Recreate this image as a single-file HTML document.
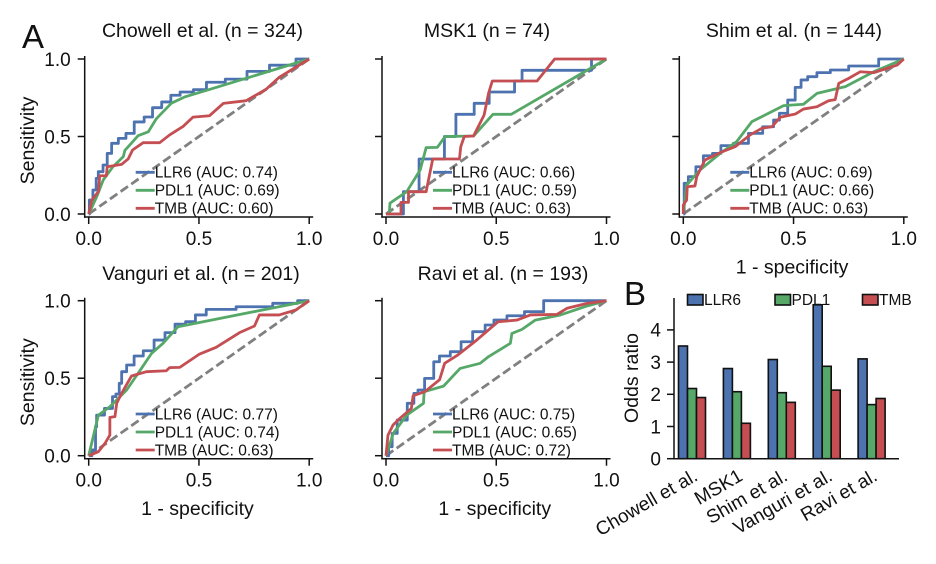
<!DOCTYPE html>
<html lang="en">
<head>
<meta charset="utf-8">
<title>ROC curves and odds ratios</title>
<style>
html,body{margin:0;padding:0;background:#fff;width:936px;height:564px;overflow:hidden}
svg{display:block}
text{font-family:"Liberation Sans",Arial,sans-serif;fill:#111}
</style>
</head>
<body>
<svg id="fig" width="936" height="564" viewBox="0 0 936 564" xmlns="http://www.w3.org/2000/svg"></svg>
<script>
// ROC data: [1 - specificity, sensitivity]
const chowellLLR6 = [[0,0],[.006,.09],[.032,.155],[.036,.23],[.051,.273],[.079,.316],[.089,.391],[.119,.456],[.15,.488],[.188,.52],[.225,.594],[.278,.626],[.301,.686],[.361,.723],[.384,.766],[.445,.787],[.505,.802],[.563,.85],[.676,.87],[.76,.92],[.88,.96],[1,1]];
const chowellPDL1 = [[0,0],[.036,.11],[.066,.22],[.11,.305],[.157,.37],[.164,.41],[.224,.505],[.27,.53],[.307,.615],[.375,.715],[.435,.755],[.563,.81],[1,1]];
const chowellTMB = [[0,0],[.014,.09],[.044,.144],[.05,.247],[.08,.247],[.084,.305],[.149,.32],[.179,.355],[.199,.413],[.247,.46],[.322,.46],[.367,.51],[.428,.565],[.473,.625],[.548,.634],[.611,.714],[.714,.731],[.804,.804],[.864,.882],[1,1]];

const msk1LLR6 = [[0,0],[.079,.144],[.15,.355],[.265,.5],[.317,.643],[.40,.714],[.468,.787],[.583,.858],[.617,.927],[.932,1],[1,1]];
const msk1PDL1 = [[0,0],[.015,.005],[.018,.07],[.094,.144],[.155,.284],[.182,.428],[.233,.43],[.268,.5],[.397,.503],[.485,.643],[.568,.643],[1,1]];
const msk1TMB = [[0,0],[.068,0],[.068,.075],[.102,.075],[.102,.144],[.182,.144],[.212,.355],[.333,.355],[.339,.434],[.355,.5],[.397,.503],[.445,.639],[.465,.778],[.482,.858],[.685,.858],[.765,1],[1,1]];

const shimLLR6 = [[0,0],[.008,.198],[.038,.241],[.076,.305],[.106,.376],[.159,.391],[.182,.441],[.273,.456],[.318,.52],[.402,.563],[.417,.606],[.455,.65],[.492,.735],[.523,.817],[.545,.865],[.583,.886],[.629,.912],[.705,.929],[.795,.955],[.886,.955],[.886,1],[1,1]];
const shimPDL1 = [[0,0],[.015,.187],[.076,.284],[.167,.391],[.242,.467],[.311,.596],[.455,.699],[.545,.708],[.606,.778],[.735,.822],[.864,.918],[1,1]];
const shimTMB = [[0,0],[0,.058],[.015,.09],[.018,.176],[.053,.181],[.061,.241],[.098,.348],[.167,.396],[.235,.434],[.303,.51],[.356,.553],[.402,.563],[.439,.624],[.508,.645],[.545,.677],[.606,.692],[.659,.731],[.689,.738],[.705,.843],[.75,.875],[.803,.918],[.864,.912],[.97,.961],[1,1]];

const vanguriLLR6 = [[0,0],[.029,.037],[.033,.187],[.039,.262],[.104,.305],[.112,.381],[.135,.398],[.142,.467],[.157,.542],[.187,.585],[.225,.643],[.27,.677],[.323,.746],[.369,.794],[.414,.849],[.465,.865],[.503,.908],[.563,.944],[.774,.961],[.895,.983],[1,1]];
const vanguriPDL1 = [[0,0],[.044,.262],[.096,.316],[.172,.424],[.239,.563],[.285,.66],[.337,.725],[.405,.832],[1,1]];
const vanguriTMB = [[0,0],[.044,.026],[.074,.08],[.096,.133],[.096,.247],[.119,.252],[.127,.338],[.149,.402],[.179,.477],[.194,.514],[.262,.542],[.352,.548],[.367,.568],[.413,.57],[.503,.656],[.578,.699],[.684,.794],[.752,.837],[.774,.908],[.864,.908],[.939,.94],[1,1]];

const raviLLR6 = [[0,0],[.024,.058],[.032,.144],[.07,.23],[.123,.338],[.13,.402],[.16,.424],[.19,.499],[.213,.499],[.22,.606],[.265,.643],[.318,.671],[.363,.735],[.423,.8],[.476,.843],[.503,.875],[.594,.903],[.662,.929],[.715,.929],[.715,1],[1,1]];
const raviPDL1 = [[0,0],[.033,.144],[.094,.262],[.17,.338],[.173,.413],[.261,.449],[.336,.563],[.427,.596],[.465,.639],[.564,.725],[.571,.789],[.617,.815],[.677,.875],[.791,.908],[.912,.966],[1,1]];
const raviTMB = [[0,0],[.009,.133],[.032,.198],[.062,.24],[.115,.305],[.123,.387],[.176,.413],[.243,.49],[.266,.596],[.326,.65],[.402,.735],[.508,.864],[.594,.875],[.655,.908],[.776,.912],[.821,.951],[.912,.983],[1,1]];

const chancePoints = [[0,0],[1,1]];
const rocTicks = [0, 0.5, 1];
const rocTickLabels = ["0.0", "0.5", "1.0"];
const seriesNames = ["LLR6", "PDL1", "TMB"];
const chowellAUC = ["0.74", "0.69", "0.60"];
const msk1AUC = ["0.66", "0.59", "0.63"];
const shimAUC = ["0.69", "0.66", "0.63"];
const vanguriAUC = ["0.77", "0.74", "0.63"];
const raviAUC = ["0.75", "0.65", "0.72"];

// Odds ratio data
const cohortNames = ["Chowell et al.", "MSK1", "Shim et al.", "Vanguri et al.", "Ravi et al."];
const oddsLLR6 = [3.5, 2.8, 3.08, 4.78, 3.1];
const oddsPDL1 = [2.18, 2.08, 2.05, 2.87, 1.68];
const oddsTMB = [1.9, 1.1, 1.75, 2.13, 1.87];
const oddsTicks = [0, 1, 2, 3, 4];

const COLORS = ["#4c72b0", "#55a868", "#c44e52"];
const INK = "#111";
const NS = "http://www.w3.org/2000/svg";
const fig = document.getElementById("fig");

function mk(parent, tag, attrs, name, text) {
  const el = document.createElementNS(NS, tag);
  for (const k in attrs) el.setAttribute(k, attrs[k]);
  
  
  if (text !== undefined) el.textContent = text;
  parent.appendChild(el);
  return el;
}

// mode: "line" straight segments, "after" right-then-up stairs, "mid" stairs centred on the segment
function rocPath(points, sx, sy, mode) {
  let d = "M" + sx(points[0][0]).toFixed(2) + " " + sy(points[0][1]).toFixed(2);
  for (let i = 1; i < points.length; i++) {
    const x = sx(points[i][0]), y = sy(points[i][1]);
    if (mode === "after") {
      d += "H" + x.toFixed(2) + "V" + y.toFixed(2);
    } else if (mode === "mid") {
      const mx = (sx(points[i - 1][0]) + x) / 2;
      d += "H" + mx.toFixed(2) + "V" + y.toFixed(2) + "H" + x.toFixed(2);
    } else {
      d += "L" + x.toFixed(2) + " " + y.toFixed(2);
    }
  }
  return d;
}

function rocPanel(cfg) {
  const g = mk(fig, "g", {}, cfg.slug + "-panel");
  const sx = v => cfg.x0 + v * 220.5;
  const sy = v => cfg.y0 - v * 155;
  const left = cfg.x0 - 4, bottom = cfg.y0 + 3;

  mk(g, "text", {x: cfg.titleX, y: cfg.titleY, "text-anchor": "middle", "font-size": 19.5}, cfg.slug + "-title", cfg.title);

  mk(g, "path", {d: rocPath(chancePoints, sx, sy, "line"), fill: "none", stroke: "#808080", "stroke-width": 2.8, "stroke-dasharray": "9 4"}, cfg.slug + "-chance-line");
  cfg.series.forEach((pts, i) => {
    const mode = i === 0 ? cfg.blueMode : "line";
    mk(g, "path", {d: rocPath(pts, sx, sy, mode), fill: "none", stroke: COLORS[i], "stroke-width": 2.8, "stroke-linejoin": "round"}, cfg.slug + "-" + seriesNames[i].toLowerCase() + "-curve");
  });

  mk(g, "line", {x1: left, x2: left, y1: sy(1) - 3, y2: bottom + .7, stroke: INK, "stroke-width": 1.5}, cfg.slug + "-y-axis");
  mk(g, "line", {x1: left - .7, x2: sx(1) + 4, y1: bottom, y2: bottom, stroke: INK, "stroke-width": 1.5}, cfg.slug + "-x-axis");

  rocTicks.forEach((t, i) => {
    mk(g, "line", {x1: sx(t), x2: sx(t), y1: bottom, y2: bottom + 7, stroke: INK, "stroke-width": 1.5}, cfg.slug + "-x-tick");
    mk(g, "text", {x: sx(t), y: bottom + 28, "text-anchor": "middle", "font-size": 19}, cfg.slug + "-x-tick-label", rocTickLabels[i]);
    mk(g, "line", {x1: left - 7, x2: left, y1: sy(t), y2: sy(t), stroke: INK, "stroke-width": 1.5}, cfg.slug + "-y-tick");
    if (cfg.yLabels) {
      mk(g, "text", {x: left - 14, y: sy(t) + 6.8, "text-anchor": "end", "font-size": 19}, cfg.slug + "-y-tick-label", rocTickLabels[i]);
    }
  });

  if (cfg.yLabels) {
    const cy = sy(0.5) + 4;
    mk(g, "text", {x: 0, y: 0, transform: "translate(34 " + cy + ") rotate(-90)", "text-anchor": "middle", "font-size": 19.5}, cfg.slug + "-y-axis-title", "Sensitivity");
  }
  if (cfg.xTitle) {
    mk(g, "text", {x: sx(0.5) - 1.5, y: bottom + 56.5, "text-anchor": "middle", "font-size": 19.5}, cfg.slug + "-x-axis-title", "1 - specificity");
  }

  const lg = mk(g, "g", {}, cfg.slug + "-legend");
  seriesNames.forEach((n, i) => {
    const ly = cfg.y0 - 41.7 + i * 18;
    mk(lg, "line", {x1: cfg.x0 + 47, x2: cfg.x0 + 66, y1: ly, y2: ly, stroke: COLORS[i], "stroke-width": 2.8}, "legend-line-" + n.toLowerCase());
    mk(lg, "text", {x: cfg.x0 + 66, y: ly + 5.4, "font-size": 15.5}, "legend-entry-" + n.toLowerCase(), n + " (AUC: " + cfg.auc[i] + ")");
  });
}

const panels = [
  {slug: "chowell", title: "Chowell et al. (n = 324)", titleX: 202.5, titleY: 37, x0: 88.7, y0: 214, yLabels: true, xTitle: false, blueMode: "mid", series: [chowellLLR6, chowellPDL1, chowellTMB], auc: chowellAUC},
  {slug: "msk1", title: "MSK1 (n = 74)", titleX: 487, titleY: 37, x0: 386, y0: 214, yLabels: false, xTitle: false, blueMode: "after", series: [msk1LLR6, msk1PDL1, msk1TMB], auc: msk1AUC},
  {slug: "shim", title: "Shim et al. (n = 144)", titleX: 794, titleY: 37, x0: 683.3, y0: 214, yLabels: false, xTitle: true, blueMode: "mid", series: [shimLLR6, shimPDL1, shimTMB], auc: shimAUC},
  {slug: "vanguri", title: "Vanguri et al. (n = 201)", titleX: 201, titleY: 280, x0: 88.7, y0: 455.7, yLabels: true, xTitle: true, blueMode: "mid", series: [vanguriLLR6, vanguriPDL1, vanguriTMB], auc: vanguriAUC},
  {slug: "ravi", title: "Ravi et al. (n = 193)", titleX: 503, titleY: 280, x0: 386, y0: 455.7, yLabels: false, xTitle: true, blueMode: "mid", series: [raviLLR6, raviPDL1, raviTMB], auc: raviAUC}
];
panels.forEach(rocPanel);

mk(fig, "text", {x: 22, y: 48, "font-size": 33}, "panel-a-label", "A");
mk(fig, "text", {x: 624, y: 305, "font-size": 33}, "panel-b-label", "B");

// Panel B: grouped bars
(function () {
  const g = mk(fig, "g", {}, "odds-ratio-panel");
  const base = 458.7, axisX = 674;
  const sy = v => base - v * 32.2;
  const groupX = i => 692 + i * 44.9;
  const barW = 9;
  const values = [oddsLLR6, oddsPDL1, oddsTMB];

  values.forEach((vals, s) => {
    vals.forEach((v, i) => {
      const x = groupX(i) + (s - 1.5) * barW;
      mk(g, "rect", {x: x, y: sy(v), width: barW, height: base - sy(v), fill: COLORS[s], stroke: "#111", "stroke-width": 1.6}, "bar-" + seriesNames[s].toLowerCase() + "-" + cohortNames[i].split(" ")[0].toLowerCase());
    });
  });

  mk(g, "line", {x1: axisX, x2: axisX, y1: 298, y2: base + .7, stroke: INK, "stroke-width": 1.5}, "odds-y-axis");
  mk(g, "line", {x1: axisX - .7, x2: 899, y1: base, y2: base, stroke: INK, "stroke-width": 1.5}, "odds-x-axis");

  oddsTicks.forEach(t => {
    mk(g, "line", {x1: axisX - 7, x2: axisX, y1: sy(t), y2: sy(t), stroke: INK, "stroke-width": 1.5}, "odds-y-tick");
    mk(g, "text", {x: 661, y: sy(t) + 6.8, "text-anchor": "end", "font-size": 19}, "odds-y-tick-label", String(t));
  });

  mk(g, "text", {x: 0, y: 0, transform: "translate(638 378) rotate(-90)", "text-anchor": "middle", "font-size": 19.5}, "odds-y-axis-title", "Odds ratio");

  cohortNames.forEach((n, i) => {
    const ex = groupX(i) + 7;
    mk(g, "text", {x: 0, y: 0, transform: "translate(" + ex + " 479.5) rotate(-30)", "text-anchor": "end", "font-size": 19}, "odds-x-tick-label", n);
  });

  const lg = mk(g, "g", {}, "odds-legend");
  seriesNames.forEach((n, i) => {
    const lx = 687.5 + i * 87.5;
    mk(lg, "rect", {x: lx, y: 294.5, width: 15.5, height: 10.5, fill: COLORS[i], stroke: "#111", "stroke-width": 1.6}, "odds-legend-swatch-" + n.toLowerCase());
    mk(lg, "text", {x: lx + 16.5, y: 305, "font-size": 15.5}, "odds-legend-entry-" + n.toLowerCase(), n);
  });
})();
</script>
</body>
</html>
